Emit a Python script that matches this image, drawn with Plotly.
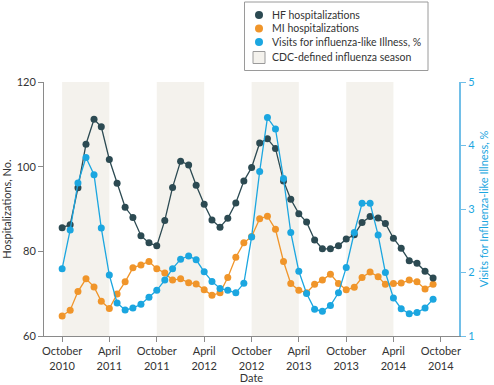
import pandas as pd
import plotly.graph_objects as go

months = pd.date_range("2010-10-01", periods=48, freq="MS")

hf = [85.6, 86.3, 95.0, 105.3, 111.2, 109.4, 101.7, 96.1, 90.4, 88.0, 83.7, 82.0,
      81.3, 87.3, 95.1, 101.3, 100.4, 95.6, 91.1, 87.4, 85.7, 87.8, 91.4, 96.6,
      99.8, 105.6, 106.6, 104.3, 96.6, 92.3, 88.9, 86.9, 82.7, 80.6, 80.6, 81.3,
      82.9, 83.9, 86.8, 88.2, 87.9, 86.6, 83.1, 80.7, 77.8, 77.2, 75.3, 73.7]

mi = [64.7, 66.1, 70.5, 73.5, 71.6, 68.2, 66.5, 69.9, 72.8, 76.1, 76.8, 77.6,
      75.9, 74.9, 73.2, 73.5, 72.6, 72.3, 70.9, 69.6, 70.2, 73.8, 78.6, 82.0,
      83.5, 87.7, 88.3, 85.2, 77.6, 72.4, 70.8, 70.2, 72.2, 73.2, 74.6, 72.4,
      70.9, 71.5, 73.8, 75.1, 74.0, 72.2, 72.4, 72.5, 73.2, 72.8, 71.1, 72.2]

ili = [2.06, 2.67, 3.41, 3.81, 3.54, 2.70, 1.96, 1.52, 1.41, 1.44, 1.50, 1.61,
       1.72, 1.88, 2.06, 2.21, 2.26, 2.20, 2.01, 1.86, 1.75, 1.72, 1.68, 1.83,
       2.56, 3.59, 4.44, 4.26, 3.48, 2.63, 2.02, 1.67, 1.42, 1.39, 1.48, 1.68,
       2.08, 2.63, 3.09, 3.09, 2.59, 2.00, 1.60, 1.43, 1.35, 1.37, 1.44, 1.58]

season_starts = ["2010-10-01", "2011-10-01", "2012-10-01", "2013-10-01"]
season_ends = ["2011-04-01", "2012-04-01", "2013-04-01", "2014-04-01"]

tick_vals = ["2010-10-01", "2011-04-01", "2011-10-01", "2012-04-01", "2012-10-01",
             "2013-04-01", "2013-10-01", "2014-04-01", "2014-10-01"]
tick_text = ["October<br>2010", "April<br>2011", "October<br>2011", "April<br>2012",
             "October<br>2012", "April<br>2013", "October<br>2013", "April<br>2014",
             "October<br>2014"]

legend_labels = ["HF hospitalizations", "MI hospitalizations",
                 "Visits for influenza-like Illness, %", "CDC-defined influenza season"]

HF_C = "#2c4a52"
MI_C = "#f0952a"
ILI_C = "#1ba6e0"
AX_BLUE = "#72bfe8"
SEASON_C = "#f4f2ed"
GRAY = "#8a8a8a"
TXT = "#333333"
FONT = "Lato"

# plot-area geometry (pixels)
W, H = 494, 385
ML, MR, MT, MB = 44, 35, 82, 49
PW, PH = W - ML - MR, H - MT - MB


def px(x):
    return (x - ML) / PW


def py(y):
    return (H - MB - y) / PH


fig = go.Figure()

fig.add_trace(go.Scatter(x=months, y=mi, mode="lines+markers", name=legend_labels[1],
                         showlegend=False,
                         line=dict(color=MI_C, width=1.3), marker=dict(size=7, color=MI_C)))
fig.add_trace(go.Scatter(x=months, y=ili, mode="lines+markers", name=legend_labels[2],
                         showlegend=False, yaxis="y2",
                         line=dict(color=ILI_C, width=1.3), marker=dict(size=7, color=ILI_C)))
fig.add_trace(go.Scatter(x=months, y=hf, mode="lines+markers", name=legend_labels[0],
                         showlegend=False,
                         line=dict(color=HF_C, width=1.3), marker=dict(size=7, color=HF_C)))

shapes = []
for s, e in zip(season_starts, season_ends):
    shapes.append(dict(type="rect", xref="x", yref="paper", x0=s, x1=e, y0=0, y1=1,
                       fillcolor=SEASON_C, line=dict(width=0), layer="below"))

# legend box (drawn with shapes + annotations)
shapes.append(dict(type="rect", xref="paper", yref="paper",
                   x0=px(244.5), x1=px(428), y0=py(2), y1=py(70.5),
                   fillcolor="white", line=dict(color="#9a9a9a", width=1)))
leg_colors = [HF_C, MI_C, ILI_C]
leg_y = [15, 28.5, 42, 57.5]
annotations = []
for i, lab in enumerate(legend_labels):
    if i < 3:
        shapes.append(dict(type="circle", xref="paper", yref="paper",
                           xsizemode="pixel", ysizemode="pixel",
                           xanchor=px(259), yanchor=py(leg_y[i]),
                           x0=-4, x1=4, y0=-4, y1=4,
                           fillcolor=leg_colors[i], line=dict(width=0)))
    else:
        shapes.append(dict(type="rect", xref="paper", yref="paper",
                           xsizemode="pixel", ysizemode="pixel",
                           xanchor=px(259), yanchor=py(leg_y[i]),
                           x0=-6, x1=6, y0=-6, y1=6,
                           fillcolor=SEASON_C, line=dict(color="#9a9a9a", width=1)))
    annotations.append(dict(text=lab, xref="paper", yref="paper",
                            x=px(270), y=py(leg_y[i]), xanchor="left", yanchor="middle",
                            showarrow=False, font=dict(family=FONT, size=10.5, color=TXT)))

fig.update_layout(
    width=W, height=H,
    margin=dict(l=ML, r=MR, t=MT, b=MB, autoexpand=False),
    paper_bgcolor="white", plot_bgcolor="white",
    font=dict(family=FONT, size=11, color=TXT),
    shapes=shapes,
    annotations=annotations,
    showlegend=False,
    xaxis=dict(range=["2010-07-23", "2014-12-10"], tickvals=tick_vals, ticktext=tick_text,
               showgrid=False, zeroline=False, showline=True, linecolor=GRAY, linewidth=1,
               ticks="outside", ticklen=5, tickcolor=GRAY, automargin=False,
               tickfont=dict(size=11, color=TXT),
               title=dict(text="Date", font=dict(size=11), standoff=2)),
    yaxis=dict(range=[60, 120], tickvals=[60, 80, 100, 120], showgrid=False, zeroline=False,
               showline=True, linecolor=GRAY, linewidth=1, ticks="outside", ticklen=5,
               tickcolor=GRAY, tickfont=dict(size=11, color=TXT), automargin=False,
               title=dict(text="Hospitalizations, No.", font=dict(size=11), standoff=8)),
    yaxis2=dict(range=[1, 5], tickvals=[1, 2, 3, 4, 5], overlaying="y", side="right",
                showgrid=False, zeroline=False, showline=True, linecolor=AX_BLUE, linewidth=2,
                ticks="outside", ticklen=5, tickcolor=AX_BLUE, automargin=False,
                tickfont=dict(size=11, color=ILI_C),
                title=dict(text="Visits for Influenza-like Illness, %",
                           font=dict(size=11, color=ILI_C), standoff=6)),
)

fig.write_html("out.html", config={"displayModeBar": False},
               post_script="document.body.style.margin='0';document.body.style.overflow='hidden';")
